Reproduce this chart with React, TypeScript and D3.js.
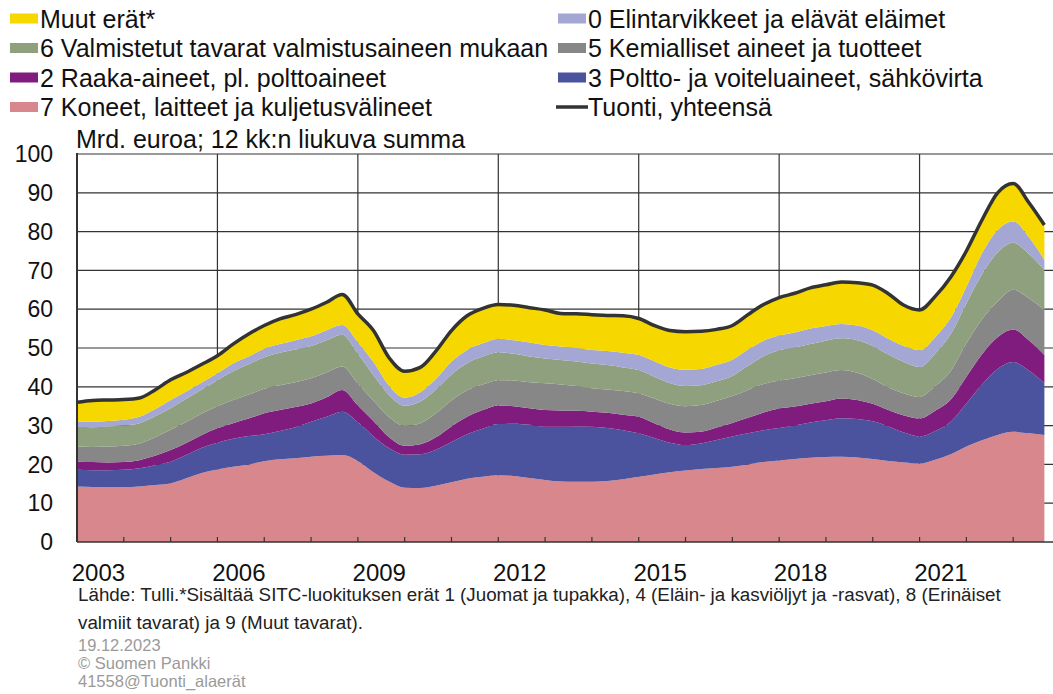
import React from 'react';
import * as d3 from 'd3';

// 12 kk:n liukuva summa, mrd. euroa; a point every 4 months from 2003-01 to 2023-09
const startYear = 2003;
const stepMonths = 4;

const koneet = [14.3, 14.2, 14.1, 14.1, 14.3, 14.7, 15.1, 16.4, 17.8, 18.7, 19.4, 20.0, 20.8, 21.3, 21.6, 22.0, 22.2, 22.4, 20.9, 18.0, 15.6, 14.0, 13.9, 14.5, 15.4, 16.3, 16.8, 17.2, 17.0, 16.5, 16.0, 15.6, 15.5, 15.5, 15.7, 16.2, 16.8, 17.4, 18.0, 18.4, 18.8, 19.1, 19.4, 20.0, 20.6, 21.0, 21.4, 21.7, 21.9, 22.0, 21.8, 21.4, 20.9, 20.5, 20.2, 21.2, 22.6, 24.6, 26.2, 27.6, 28.4, 28.0, 27.6];
const poltto = [4.3, 4.3, 4.4, 4.5, 4.7, 5.1, 5.6, 6.0, 6.5, 6.9, 7.2, 7.3, 7.0, 7.3, 8.0, 9.0, 10.1, 11.2, 10.0, 9.2, 8.6, 8.5, 8.7, 9.3, 10.4, 11.5, 12.4, 13.2, 13.5, 13.7, 13.7, 14.1, 14.3, 14.2, 13.7, 12.6, 11.2, 9.4, 7.6, 6.6, 6.6, 7.2, 7.8, 8.0, 8.2, 8.4, 8.6, 9.1, 9.5, 9.9, 9.9, 9.7, 8.9, 7.7, 7.0, 7.4, 8.4, 11.1, 14.4, 17.0, 18.0, 16.2, 13.3];
const raaka = [2.1, 2.1, 2.0, 2.0, 2.1, 2.4, 3.0, 3.1, 3.3, 3.7, 4.0, 4.5, 5.4, 5.4, 5.2, 4.7, 5.0, 5.6, 4.3, 4.0, 2.8, 2.3, 2.6, 3.2, 4.0, 4.5, 4.8, 4.8, 4.5, 4.3, 4.3, 4.2, 4.0, 3.9, 3.9, 4.0, 4.3, 3.8, 3.4, 3.2, 3.0, 3.2, 3.5, 4.0, 4.6, 5.0, 4.9, 4.8, 4.9, 5.1, 4.9, 4.5, 4.2, 4.4, 4.6, 5.2, 5.7, 6.9, 7.8, 8.2, 8.4, 7.8, 7.3];
const kemialliset = [3.9, 3.9, 4.1, 4.2, 4.3, 4.8, 5.2, 5.4, 5.5, 5.7, 6.0, 6.2, 6.3, 6.4, 6.4, 6.5, 6.4, 6.0, 5.6, 5.2, 5.2, 5.1, 5.4, 6.2, 6.7, 6.8, 6.6, 6.5, 6.6, 6.7, 6.9, 6.7, 6.4, 6.0, 6.0, 6.1, 6.0, 6.4, 6.6, 6.8, 6.9, 6.9, 6.9, 7.2, 7.3, 7.2, 7.3, 7.4, 7.4, 7.3, 7.0, 6.4, 5.8, 5.7, 5.6, 6.4, 7.4, 8.6, 9.0, 9.2, 10.2, 10.8, 11.6];
const valmistetut = [5.1, 5.1, 5.2, 5.2, 5.2, 5.4, 5.6, 6.0, 6.2, 6.7, 7.4, 7.8, 8.1, 8.4, 8.4, 8.3, 8.3, 8.2, 7.7, 6.6, 5.7, 5.2, 5.6, 6.1, 6.7, 7.0, 7.2, 7.2, 6.9, 6.6, 6.4, 6.3, 6.3, 6.4, 6.3, 6.1, 6.0, 5.6, 5.4, 5.2, 5.1, 5.0, 5.2, 6.2, 7.2, 7.8, 7.9, 8.0, 8.2, 8.2, 8.4, 8.5, 8.5, 8.1, 7.7, 8.4, 9.5, 10.3, 11.6, 12.6, 12.1, 11.5, 10.3];
const elintarvikkeet = [1.3, 1.4, 1.4, 1.5, 1.7, 1.8, 2.1, 1.9, 1.8, 1.8, 2.0, 2.0, 2.2, 2.2, 2.4, 2.5, 2.6, 2.5, 3.0, 3.4, 2.4, 2.1, 2.4, 2.7, 3.3, 3.4, 3.4, 3.5, 3.5, 3.6, 3.5, 3.5, 3.5, 3.5, 3.6, 3.8, 3.9, 4.0, 4.0, 4.2, 4.2, 4.3, 4.2, 4.2, 4.0, 3.8, 3.9, 4.0, 3.8, 3.7, 3.8, 4.1, 4.1, 4.1, 4.3, 4.2, 4.2, 4.3, 5.4, 5.8, 5.5, 4.3, 2.6];
const muut = [5.0, 5.5, 5.4, 5.2, 4.8, 5.0, 5.2, 4.9, 4.7, 4.5, 5.0, 5.8, 6.0, 6.5, 6.6, 7.0, 7.2, 7.9, 7.3, 8.1, 7.2, 6.8, 6.4, 7.2, 8.0, 8.8, 9.0, 8.8, 9.0, 9.0, 9.0, 8.5, 8.8, 9.1, 9.2, 9.5, 9.4, 9.2, 9.5, 9.8, 9.7, 9.1, 8.8, 9.0, 9.3, 9.8, 10.1, 10.5, 10.6, 10.8, 11.0, 11.6, 11.6, 10.5, 10.4, 10.5, 10.5, 9.2, 8.6, 9.6, 9.8, 8.9, 9.0];

const yTicks = [0, 10, 20, 30, 40, 50, 60, 70, 80, 90, 100];
const yearLabels = [2003, 2006, 2009, 2012, 2015, 2018, 2021];

const layers = [
  { key: 'koneet', label: '7 Koneet, laitteet ja kuljetusvälineet', color: '#d8888c', values: koneet },
  { key: 'poltto', label: '3 Poltto- ja voiteluaineet, sähkövirta', color: '#4b539e', values: poltto },
  { key: 'raaka', label: '2 Raaka-aineet, pl. polttoaineet', color: '#801c7e', values: raaka },
  { key: 'kemialliset', label: '5 Kemialliset aineet ja tuotteet', color: '#878787', values: kemialliset },
  { key: 'valmistetut', label: '6 Valmistetut tavarat valmistusaineen mukaan', color: '#8ea07e', values: valmistetut },
  { key: 'elintarvikkeet', label: '0 Elintarvikkeet ja elävät eläimet', color: '#a4a7d4', values: elintarvikkeet },
  { key: 'muut', label: 'Muut erät*', color: '#f6d800', values: muut },
];

const leftLegend = ['muut', 'valmistetut', 'raaka', 'koneet'];
const rightLegend = ['elintarvikkeet', 'kemialliset', 'poltto'];

const font = '"Liberation Sans", Arial, sans-serif';

export default function App() {
  const width = 1053;
  const height = 694;
  const x0 = 77;
  const x1 = 1060;
  const yTop = 154;
  const yBot = 542;

  const rows = koneet.map((_, i) => {
    const r: any = { t: startYear + (i * stepMonths) / 12 };
    layers.forEach(l => { r[l.key] = l.values[i]; });
    return r;
  });

  const x = d3.scaleLinear().domain([2003, 2024]).range([x0, x1]);
  const y = d3.scaleLinear().domain([0, 100]).range([yBot, yTop]);

  const stack = d3.stack().keys(layers.map(l => l.key));
  const stacked = stack(rows);

  const area = d3.area<any>()
    .x(d => x(d.data.t))
    .y0(d => y(d[0]))
    .y1(d => y(d[1]))
    .curve(d3.curveMonotoneX);

  const top = stacked[stacked.length - 1];
  const line = d3.line<any>()
    .x(d => x(d.data.t))
    .y(d => y(d[1]))
    .curve(d3.curveMonotoneX);

  const yearTicks = d3.range(2003, 2025);
  const byKey = (k: string) => layers.find(l => l.key === k)!;
  const rowY = [18.5, 48, 77.5, 107];
  const lg = 25;

  return (
    <svg width={width} height={height} style={{ position: 'absolute', left: 0, top: 0, background: '#fff' }}
      fontFamily={font}>
      <rect width={width} height={height} fill="#fff" />

      {/* legend */}
      {leftLegend.map((k, i) => (
        <g key={k}>
          <rect x={10} y={rowY[i] - 5} width={28} height={10} fill={byKey(k).color} />
          <text x={40} y={rowY[i]} dy="0.36em" fontSize={lg} fill="#111">{byKey(k).label}</text>
        </g>
      ))}
      {rightLegend.map((k, i) => (
        <g key={k}>
          <rect x={558} y={rowY[i] - 5} width={28} height={10} fill={byKey(k).color} />
          <text x={588} y={rowY[i]} dy="0.36em" fontSize={lg} fill="#111">{byKey(k).label}</text>
        </g>
      ))}
      <line x1={556} x2={588} y1={rowY[3]} y2={rowY[3]} stroke="#333" strokeWidth={3.5} />
      <text x={588} y={rowY[3]} dy="0.36em" fontSize={lg} fill="#111">Tuonti, yhteensä</text>

      <text x={76} y={139} dy="0.36em" fontSize={lg} fill="#111">Mrd. euroa; 12 kk:n liukuva summa</text>

      {/* grid */}
      {yTicks.filter(v => v > 0).map(v => (
        <line key={v} x1={x0} x2={x1} y1={y(v)} y2={y(v)} stroke="#333" strokeWidth={1.2} />
      ))}
      {yearLabels.filter(v => v > 2003).map(v => (
        <line key={v} x1={x(v)} x2={x(v)} y1={yTop} y2={yBot} stroke="#333" strokeWidth={1.2} />
      ))}

      {/* stacked areas */}
      {stacked.map((s, i) => (
        <path key={s.key} d={area(s as any) || ''} fill={layers[i].color} />
      ))}
      <path d={line(top as any) || ''} fill="none" stroke="#333" strokeWidth={3.5} strokeLinejoin="round" />

      {/* axes */}
      <line x1={x0} x2={x0} y1={yTop - 1} y2={yBot} stroke="#333" strokeWidth={2} />
      <line x1={x0} x2={x1} y1={yBot} y2={yBot} stroke="#333" strokeWidth={1.5} />
      {yearTicks.map(v => (
        <line key={v} x1={x(v)} x2={x(v)} y1={yBot} y2={yBot - 5} stroke="#333" strokeWidth={1.2} />
      ))}

      {yTicks.map(v => (
        <text key={v} x={53} y={y(v)} dy="0.36em" textAnchor="end" fontSize={23} fill="#111">{v}</text>
      ))}
      {yearLabels.map(v => (
        <text key={v} x={x(v + 0.5) - 2} y={572} dy="0.36em" textAnchor="middle" fontSize={24} fill="#111">{v}</text>
      ))}

      {/* footer */}
      <text x={78} y={594} dy="0.36em" fontSize={18.8} fill="#222">Lähde: Tulli.*Sisältää SITC-luokituksen erät 1 (Juomat ja tupakka), 4 (Eläin- ja kasviöljyt ja -rasvat), 8 (Erinäiset</text>
      <text x={78} y={622} dy="0.36em" fontSize={18.8} fill="#222">valmiit tavarat) ja 9 (Muut tavarat).</text>
      <text x={78} y={645} dy="0.36em" fontSize={16.5} fill="#9a9a9a">19.12.2023</text>
      <text x={78} y={663} dy="0.36em" fontSize={16.5} fill="#9a9a9a">© Suomen Pankki</text>
      <text x={78} y={681} dy="0.36em" fontSize={16.5} fill="#9a9a9a">41558@Tuonti_alaerät</text>
    </svg>
  );
}
